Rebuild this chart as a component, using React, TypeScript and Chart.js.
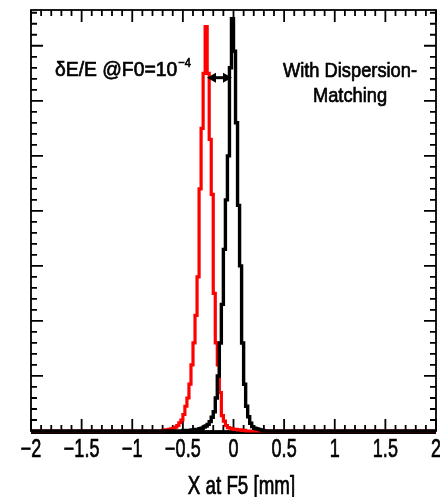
import React, { useEffect, useRef } from "react";
import { Chart, registerables } from "chart.js";

Chart.register(...registerables);

// ---- data ----
const binWidth = 0.02;
const redStart = -0.7;
const redCounts = [
  0.01, 0.02, 0.02, 0.03, 0.04, 0.05, 0.07, 0.1, 0.15, 0.2,
  0.3, 0.45, 0.6, 0.85, 1.2, 1.6, 2.1, 2.8, 4.4, 5.5,
  6.5, 7.35, 6.5, 5.3, 4.3, 2.5, 1.6, 1.2, 0.7, 0.28,
  0.18, 0.1, 0.06, 0.05, 0.04, 0.03, 0.03, 0.02, 0.02, 0.01,
  0.01,
];
const blackStart = -0.5;
const blackCounts = [
  0.01, 0.01, 0.01, 0.01, 0.02, 0.02, 0.03, 0.03, 0.04, 0.05,
  0.07, 0.09, 0.12, 0.17, 0.25, 0.35, 0.6, 1.0, 1.6, 2.3,
  3.3, 4.2, 5.0, 6.6, 7.49, 6.9, 5.6, 4.1, 3.0, 1.6,
  0.85, 0.45, 0.26, 0.14, 0.08, 0.05, 0.04, 0.03, 0.02, 0.01,
];
const xMin = -2;
const xMax = 2;
const yMin = 0;
const yMax = 7.65;
const xTickValues = [-2, -1.5, -1, -0.5, 0, 0.5, 1, 1.5, 2];
const xTickLabels = ["\u22122", "\u22121.5", "\u22121", "\u22120.5", "0", "0.5", "1", "1.5", "2"];
const xTitle = "X at F5 [mm]";
const noteLeft = "\u03B4E/E @F0=10";
const noteLeftSup = "\u22124";
const noteRight1 = "With Dispersion-";
const noteRight2 = "Matching";
const arrowFromX = -0.262;
const arrowToX = -0.015;
const arrowY = 6.42;

const FONT = '"Liberation Sans", Arial, Helvetica, sans-serif';

function toPoints(start: number, counts: number[]) {
  const pts: { x: number; y: number }[] = [{ x: xMin, y: 0 }];
  counts.forEach((c, i) => pts.push({ x: +(start + i * binWidth).toFixed(4), y: c }));
  pts.push({ x: +(start + counts.length * binWidth).toFixed(4), y: 0 });
  pts.push({ x: xMax, y: 0 });
  return pts;
}

function drawText(
  ctx: CanvasRenderingContext2D,
  text: string,
  x: number,
  y: number,
  size: number,
  sx: number,
  align: "left" | "center" | "right" = "left"
) {
  ctx.save();
  ctx.font = `${size}px ${FONT}`;
  ctx.textBaseline = "alphabetic";
  ctx.textAlign = "left";
  const w = ctx.measureText(text).width * sx;
  let left = x;
  if (align === "center") left = x - w / 2;
  else if (align === "right") left = x - w;
  ctx.translate(left, y);
  ctx.scale(sx, 1);
  ctx.fillStyle = "#000";
  ctx.strokeStyle = "#000";
  ctx.lineWidth = 0.7;
  ctx.fillText(text, 0, 0);
  ctx.strokeText(text, 0, 0);
  ctx.restore();
  return w;
}

const framePlugin = {
  id: "rootFrame",
  beforeDatasetsDraw(chart: any) {
    const { ctx, chartArea } = chart;
    const { left, right, top, bottom } = chartArea;
    const xs = chart.scales.x;
    const ys = chart.scales.y;
    ctx.save();
    ctx.strokeStyle = "#000";
    ctx.lineWidth = 1.8;
    ctx.strokeRect(left, top, right - left, bottom - top);
    ctx.beginPath();
    for (let i = -20; i <= 20; i++) {
      const px = xs.getPixelForValue(i / 10);
      const len = i % 5 === 0 ? 12 : 6;
      ctx.moveTo(px, bottom);
      ctx.lineTo(px, bottom - len);
      ctx.moveTo(px, top);
      ctx.lineTo(px, top + len);
    }
    for (let j = 0; j * 0.2 <= yMax + 1e-9; j++) {
      const py = ys.getPixelForValue(j * 0.2);
      const len = j % 5 === 0 ? 12 : 6;
      ctx.moveTo(left, py);
      ctx.lineTo(left + len, py);
      ctx.moveTo(right, py);
      ctx.lineTo(right - len, py);
    }
    ctx.stroke();
    // heavier bottom axis line
    ctx.lineWidth = 3;
    ctx.beginPath();
    ctx.moveTo(left, bottom + 1.5);
    ctx.lineTo(right, bottom + 1.5);
    ctx.stroke();
    ctx.restore();
  },
  afterDatasetsDraw(chart: any) {
    const { ctx, chartArea } = chart;
    const xs = chart.scales.x;
    const ys = chart.scales.y;
    // tick labels
    xTickValues.forEach((v, i) => {
      drawText(ctx, xTickLabels[i], xs.getPixelForValue(v), 457, 25, 0.72, "center");
    });
    // axis title
    drawText(ctx, xTitle, (chartArea.left + chartArea.right) / 2 + 8, 494, 25, 0.75, "center");
    // annotations
    const w = drawText(ctx, noteLeft, 55, 76, 21, 0.92, "left");
    drawText(ctx, noteLeftSup, 55 + w + 1, 67, 13, 0.85, "left");
    drawText(ctx, noteRight1, 350, 77, 21, 0.87, "center");
    drawText(ctx, noteRight2, 350, 102, 21, 0.87, "center");
    // double arrow
    const x1 = xs.getPixelForValue(arrowFromX);
    const x2 = xs.getPixelForValue(arrowToX);
    const y = ys.getPixelForValue(arrowY);
    ctx.save();
    ctx.strokeStyle = "#000";
    ctx.fillStyle = "#000";
    ctx.lineWidth = 3;
    ctx.beginPath();
    ctx.moveTo(x1 + 6, y);
    ctx.lineTo(x2 - 6, y);
    ctx.stroke();
    ctx.beginPath();
    ctx.moveTo(x1, y);
    ctx.lineTo(x1 + 9, y - 5);
    ctx.lineTo(x1 + 9, y + 5);
    ctx.closePath();
    ctx.fill();
    ctx.beginPath();
    ctx.moveTo(x2, y);
    ctx.lineTo(x2 - 9, y - 5);
    ctx.lineTo(x2 - 9, y + 5);
    ctx.closePath();
    ctx.fill();
    ctx.restore();
  },
};

export default function App() {
  const ref = useRef<HTMLCanvasElement | null>(null);
  useEffect(() => {
    if (!ref.current) return;
    const chart = new Chart(ref.current, {
      type: "line",
      data: {
        datasets: [
          {
            label: "With dispersion matching",
            data: toPoints(blackStart, blackCounts),
            borderColor: "#000000",
            borderWidth: 3.4,
            stepped: true,
            pointRadius: 0,
            fill: false,
            clip: false as any,
          },
          {
            label: "Without",
            data: toPoints(redStart, redCounts),
            borderColor: "#ff0000",
            borderWidth: 3.2,
            stepped: true,
            pointRadius: 0,
            fill: false,
            clip: false as any,
          },
        ],
      },
      options: {
        animation: false,
        responsive: true,
        maintainAspectRatio: false,
        layout: { padding: { left: 31, right: 4, top: 10, bottom: 66 } },
        plugins: { legend: { display: false }, tooltip: { enabled: false } },
        scales: {
          x: { type: "linear", min: xMin, max: xMax, display: false },
          y: { type: "linear", min: yMin, max: yMax, display: false },
        },
      },
      plugins: [framePlugin],
    });
    return () => chart.destroy();
  }, []);
  return (
    <div style={{ position: "fixed", left: 0, top: 0, width: 440, height: 497, background: "#fff" }}>
      <canvas ref={ref} />
    </div>
  );
}
